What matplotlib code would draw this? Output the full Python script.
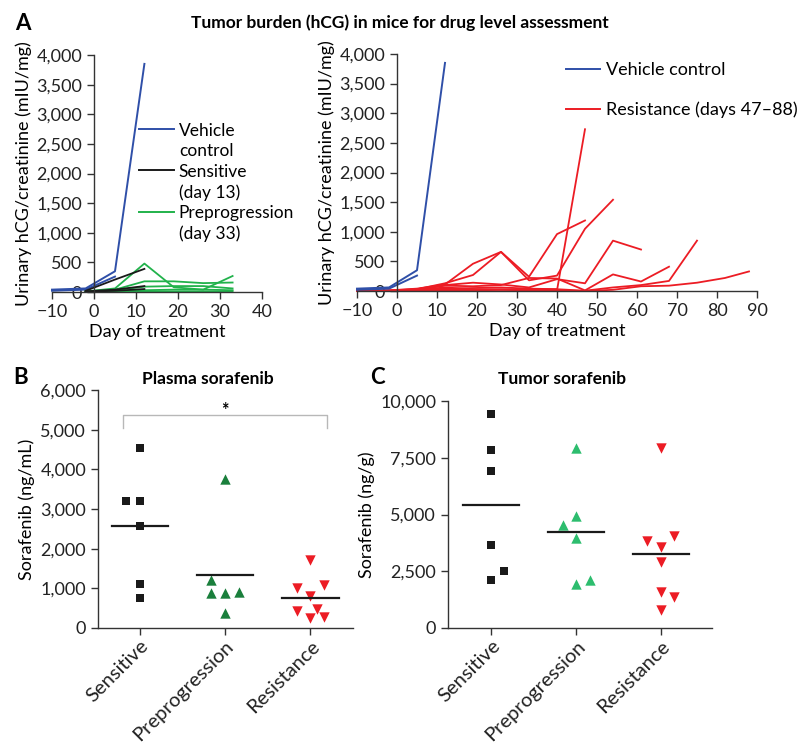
import numpy as np
import matplotlib
matplotlib.use('Agg')
import matplotlib.pyplot as plt
from matplotlib.lines import Line2D
from matplotlib.transforms import ScaledTranslation

plt.rcParams['font.family'] = ['Lato', 'DejaVu Sans']
plt.rcParams['font.size'] = 12

W, H = 800, 745

BLUE = '#2f4fa8'
RED = '#ec1c24'
GREEN = '#21b24b'
DKGREEN = '#1a7f3c'
LTGREEN = '#2dbd6e'
BLACK = '#1a1a1a'

# ---------------- panel A data (day, hCG/creatinine) ----------------
vehicle_days = [[-10, -2, 5, 12], [-10, -2, 5]]
vehicle_vals = [[40, 60, 350, 3850], [20, 40, 260]]

sensitive_days = [[-2, 5, 12], [-2, 5, 12], [-2, 5, 12]]
sensitive_vals = [[20, 210, 390], [10, 40, 100], [5, 20, 50]]

prepro_days = [-2, 5, 12, 19, 26, 33]
prepro_vals = [
    [10, 60, 480, 80, 40, 270],
    [5, 40, 180, 180, 150, 160],
    [5, 30, 90, 100, 100, 60],
    [0, 10, 30, 40, 40, 30],
    [0, 5, 10, 10, 10, 10],
]

resist_days = [
    [-10, -2, 5, 12, 19, 26, 33, 40, 47],
    [-10, -2, 5, 12, 19, 26, 33, 40, 47, 54],
    [-10, -2, 5, 12, 19, 26, 33, 40, 47],
    [-10, -2, 5, 12, 19, 26, 33, 40, 47, 54, 61],
    [-10, -2, 5, 12, 19, 26, 33, 40, 47, 54, 61, 68],
    [-10, -2, 5, 12, 19, 26, 33, 40, 47, 54, 61, 68, 75],
    [-10, -2, 5, 12, 19, 26, 33, 40, 47, 54, 61, 68, 75, 82, 88],
    [-10, -2, 5, 12, 19, 26, 33, 40],
]
resist_vals = [
    [0, 10, 40, 110, 460, 660, 240, 960, 1190],
    [0, 10, 30, 130, 270, 660, 180, 260, 1050, 1540],
    [0, 5, 20, 60, 30, 20, 10, 10, 2730],
    [0, 5, 30, 100, 140, 110, 60, 200, 130, 850, 700],
    [0, 0, 20, 90, 80, 100, 220, 210, 10, 280, 160, 410],
    [0, 0, 10, 40, 50, 60, 40, 30, 5, 60, 100, 170, 850],
    [0, 0, 5, 20, 20, 30, 20, 10, 0, 20, 80, 90, 140, 220, 330],
    [0, 0, 5, 10, 10, 20, 30, 30],
]

# ---------------- panels B and C data ----------------
groups = ['Sensitive', 'Preprogression', 'Resistance']

plasma_sens = [4550, 3200, 3200, 2580, 1110, 760]
plasma_pre = [3760, 1220, 880, 880, 900, 370]
plasma_res = [1720, 1010, 1090, 800, 420, 490, 250, 270]

tumor_sens = [9440, 7860, 6930, 3660, 2490, 2120]
tumor_pre = [7950, 4950, 4520, 3980, 1930, 2120]
tumor_res = [7950, 3850, 4060, 3560, 2900, 1570, 1360, 810]

# horizontal spread of the dots (category units)
plasma_off = [[0, -0.16, 0, 0, 0, 0],
              [0, -0.16, -0.16, 0, 0.16, 0],
              [0, -0.16, 0.16, 0, -0.16, 0.08, 0, 0.16]]
tumor_off = [[0, 0, 0, 0, 0.15, 0],
             [0, 0, -0.16, 0, 0, 0.16],
             [0, -0.16, 0.15, 0, 0, 0, 0.15, 0]]


fig = plt.figure(figsize=(W / 100, H / 100), dpi=100)


def px_axes(x0, y0, x1, y1):
    return fig.add_axes([x0 / W, 1 - y1 / H, (x1 - x0) / W, (y1 - y0) / H])


def style(ax):
    for s in ('top', 'right'):
        ax.spines[s].set_visible(False)
    for s in ('left', 'bottom'):
        ax.spines[s].set_color('#333333')
        ax.spines[s].set_linewidth(1.0)
    ax.tick_params(direction='out', length=5, width=1.0, color='#333333',
                   labelsize=13, labelcolor='#222222')


def fmt_thousands(ax):
    ax.yaxis.set_major_formatter(matplotlib.ticker.FuncFormatter(lambda v, p: f'{int(v):,}'))


def blank():
    return Line2D([], [], color='none')


# ================= Panel A left =================
axL = px_axes(52, 55, 262, 292)
for d, v in zip(vehicle_days, vehicle_vals):
    axL.plot(d, v, color=BLUE, lw=1.4, clip_on=False)
for v in prepro_vals:
    axL.plot(prepro_days, v, color=GREEN, lw=1.3, clip_on=False)
for d, v in zip(sensitive_days, sensitive_vals):
    axL.plot(d, v, color=BLACK, lw=1.3, clip_on=False)
axL.set_xlim(-10, 40)
axL.set_ylim(0, 4000)
axL.set_xticks(range(-10, 41, 10))
axL.set_yticks(range(0, 4001, 500))
fmt_thousands(axL)
style(axL)
axL.spines['left'].set_position(('data', 0))
axL.set_xlabel('Day of treatment', fontsize=13, labelpad=3)
axL.set_ylabel('Urinary hCG/creatinine (mIU/mg)', fontsize=13, labelpad=3)
hL = [Line2D([], [], color=BLUE, lw=1.4), blank(),
      Line2D([], [], color=BLACK, lw=1.4), blank(),
      Line2D([], [], color=GREEN, lw=1.4), blank()]
axL.legend(hL, ['Vehicle', 'control', 'Sensitive', '(day 13)', 'Preprogression', '(day 33)'],
           loc='upper left', bbox_to_anchor=(0.414, 0.715), frameon=False,
           fontsize=12.5, handlelength=2.0, handletextpad=0.3, labelspacing=0.26,
           borderaxespad=0, borderpad=0)

# ================= Panel A right =================
axR = px_axes(357, 54, 757, 291)
for d, v in zip(resist_days, resist_vals):
    axR.plot(d, v, color=RED, lw=1.3, clip_on=False)
for d, v in zip(vehicle_days, vehicle_vals):
    axR.plot(d, v, color=BLUE, lw=1.4, clip_on=False)
axR.set_xlim(-10, 90)
axR.set_ylim(0, 4000)
axR.set_xticks(range(-10, 91, 10))
axR.set_yticks(range(0, 4001, 500))
fmt_thousands(axR)
style(axR)
axR.spines['left'].set_position(('data', 0))
axR.set_xlabel('Day of treatment', fontsize=13, labelpad=3)
axR.set_ylabel('Urinary hCG/creatinine (mIU/mg)', fontsize=13, labelpad=3)
hR = [Line2D([], [], color=BLUE, lw=1.4), Line2D([], [], color=RED, lw=1.4)]
axR.legend(hR, ['Vehicle control', 'Resistance (days 47\u201388)'],
           loc='upper left', bbox_to_anchor=(0.5225, 0.965), frameon=False,
           fontsize=13, handlelength=1.9, handletextpad=0.3, labelspacing=1.3,
           borderaxespad=0, borderpad=0)

fig.text(400 / W, 1 - 23 / H, 'Tumor burden (hCG) in mice for drug level assessment',
         ha='center', va='center', fontsize=12.5, fontweight='bold')
fig.text(15 / W, 1 - 24 / H, 'A', ha='left', va='center', fontsize=16, fontweight='bold')


# ================= Panels B and C =================
def dot_panel(ax, data, offs, greens, ymax, ystep, ylabel):
    markers = ['s', '^', 'v']
    colors = [BLACK, greens, RED]
    sizes = [40, 56, 56]
    for i, (vals, off) in enumerate(zip(data, offs)):
        xs = i + np.array(off)
        ax.scatter(xs, vals, marker=markers[i], color=colors[i], s=sizes[i],
                   linewidths=0, zorder=3, clip_on=False)
        m = np.mean(vals)
        ax.plot([i - 0.33, i + 0.33], [m, m], color=BLACK, lw=1.6, zorder=4)
    ax.set_ylim(0, ymax)
    ax.set_yticks(np.arange(0, ymax + 1, ystep))
    fmt_thousands(ax)
    ax.set_xticks(range(3))
    ax.set_xticklabels(groups, rotation=45, ha='right', va='center',
                       rotation_mode='anchor')
    style(ax)
    ax.tick_params(axis='x', labelsize=14.5, pad=6)
    shift = ScaledTranslation(6 / 100, 0, fig.dpi_scale_trans)
    for lab in ax.get_xticklabels():
        lab.set_transform(lab.get_transform() + shift)
    ax.set_ylabel(ylabel, fontsize=13, labelpad=4)


axB = px_axes(98, 390, 353, 628)
axB.set_xlim(-0.49, 2.5)
dot_panel(axB, [plasma_sens, plasma_pre, plasma_res], plasma_off, DKGREEN,
          6000, 1000, 'Sorafenib (ng/mL)')
# significance bracket Sensitive vs Resistance
axB.plot([-0.2, -0.2, 2.2, 2.2], [5030, 5360, 5360, 5030], color='#b8b8b8', lw=1.0)
axB.text(1, 5270, '*', ha='center', va='bottom', fontsize=13, fontweight='bold')

axC = px_axes(448, 401, 712, 628)
axC.set_xlim(-0.51, 2.6)
dot_panel(axC, [tumor_sens, tumor_pre, tumor_res], tumor_off, LTGREEN,
          10000, 2500, 'Sorafenib (ng/g)')

fig.text(208 / W, 1 - 379 / H, 'Plasma sorafenib', ha='center', va='center',
         fontsize=12.5, fontweight='bold')
fig.text(562 / W, 1 - 379 / H, 'Tumor sorafenib', ha='center', va='center',
         fontsize=12.5, fontweight='bold')
fig.text(13 / W, 1 - 377 / H, 'B', ha='left', va='center', fontsize=16, fontweight='bold')
fig.text(370 / W, 1 - 377 / H, 'C', ha='left', va='center', fontsize=16, fontweight='bold')

fig.savefig('out.png', dpi=100)
